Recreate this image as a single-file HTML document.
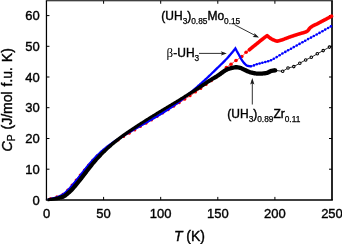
<!DOCTYPE html>
<html lang="en">
<head>
<meta charset="utf-8">
<title>Heat capacity of uranium hydrides</title>
<style>
html,body{margin:0;padding:0;background:#fff;}
body{width:342px;height:244px;overflow:hidden;}
svg{display:block;}
text{font-family:"Liberation Sans",Arial,Helvetica,sans-serif;fill:#000;stroke:#000;stroke-width:0.3px;}
.tk{font-size:13px;stroke-width:0.38px;}
.lb{font-size:12px;stroke-width:0.4px;}
.sub{font-size:8.3px;stroke-width:0.25px;}
.ttl{font-size:14px;stroke-width:0.4px;}
.it{font-style:italic;}
.beta{font-family:"Liberation Serif","DejaVu Serif",serif;font-size:13px;stroke:none;}
</style>
</head>
<body>
<svg width="342" height="244" viewBox="0 0 342 244">
<rect x="0" y="0" width="342" height="244" fill="#fff"/>
<g id="axes">
<path d="M45.85,0.75 H332.85" stroke="#000" stroke-width="1.1" fill="none"/>
<path d="M45.85,199.9 H332.85" stroke="#000" stroke-width="1.5" fill="none"/>
<path d="M46.45,0.75 V199.9" stroke="#000" stroke-width="1.25" fill="none"/>
<path d="M332.0,0.75 V199.9" stroke="#000" stroke-width="1.7" fill="none"/>
<path d="M103.6,199.9 v-3 M103.6,0.75 v3 M160.7,199.9 v-3 M160.7,0.75 v3 M217.8,199.9 v-3 M217.8,0.75 v3 M274.9,199.9 v-3 M274.9,0.75 v3 M46.45,169.2 h3 M332.0,169.2 h-3 M46.45,138.5 h3 M332.0,138.5 h-3 M46.45,107.7 h3 M332.0,107.7 h-3 M46.45,77.0 h3 M332.0,77.0 h-3 M46.45,46.3 h3 M332.0,46.3 h-3 M46.45,15.6 h3 M332.0,15.6 h-3" stroke="#000" stroke-width="1" fill="none"/>
<text x="46.5" y="218.4" text-anchor="middle" class="tk">0</text>
<text x="103.6" y="218.4" text-anchor="middle" class="tk">50</text>
<text x="160.7" y="218.4" text-anchor="middle" class="tk">100</text>
<text x="217.8" y="218.4" text-anchor="middle" class="tk">150</text>
<text x="274.9" y="218.4" text-anchor="middle" class="tk">200</text>
<text x="332.0" y="218.4" text-anchor="middle" class="tk">250</text>
<text x="39.8" y="204.6" text-anchor="end" class="tk">0</text>
<text x="39.8" y="173.9" text-anchor="end" class="tk">10</text>
<text x="39.8" y="143.2" text-anchor="end" class="tk">20</text>
<text x="39.8" y="112.4" text-anchor="end" class="tk">30</text>
<text x="39.8" y="81.7" text-anchor="end" class="tk">40</text>
<text x="39.8" y="51.0" text-anchor="end" class="tk">50</text>
<text x="39.8" y="20.3" text-anchor="end" class="tk">60</text>
</g>
<g id="curves">
<path d="M48.2,199.1 L48.7,199.0 L49.2,198.9 L49.7,198.8 L50.2,198.7 L50.7,198.6 L51.2,198.4 L51.7,198.3 L52.2,198.2 L52.7,198.1 L53.2,197.9 L53.7,197.8 L54.2,197.6 L54.7,197.5 L55.2,197.3 L55.7,197.2 L56.2,197.0 L56.7,196.9 L57.2,196.7 L57.7,196.6 L58.2,196.4 L58.7,196.2 L59.2,196.0 L59.7,195.8 L60.2,195.6 L60.7,195.4 L61.2,195.1 L61.7,194.9 L62.2,194.6 L62.7,194.4 L63.2,194.1 L63.7,193.8 L64.2,193.5 L64.7,193.1 L65.2,192.6 L65.7,192.1 L66.2,191.6 L66.7,191.0 L67.2,190.5 L67.7,189.9 L68.2,189.4 L68.7,188.8 L69.2,188.3 L69.7,187.7 L70.2,187.1 L70.7,186.6 L71.2,186.0 L71.7,185.4 L72.2,184.8 L72.7,184.2 L73.2,183.6 L73.7,183.0 L74.2,182.4 L74.7,181.8 L75.2,181.2 L75.7,180.6 L76.2,180.0 L76.7,179.4 L77.2,178.8 L77.7,178.2 L78.2,177.6 L78.7,176.9 L79.2,176.3 L79.7,175.7 L80.2,175.1 L80.7,174.5 L81.2,173.8 L81.7,173.2 L82.2,172.6 L82.7,172.0 L83.2,171.3 L83.7,170.7 L84.2,170.1 L84.7,169.5 L85.2,168.9 L85.7,168.3 L86.2,167.7 L86.7,167.1 L87.2,166.5 L87.7,165.9 L88.2,165.3 L88.7,164.8 L89.2,164.2 L89.7,163.6 L90.2,163.0 L90.7,162.5 L91.2,161.9 L91.7,161.4 L92.2,160.8 L92.7,160.3 L93.2,159.8 L93.7,159.2 L94.2,158.7 L94.7,158.2 L95.2,157.7 L95.7,157.2 L96.2,156.7 L96.7,156.2 L97.2,155.7 L97.7,155.3 L98.2,154.8 L98.7,154.3 L99.2,153.8 L99.7,153.4 L100.2,152.9 L100.7,152.5 L101.2,152.0 L101.7,151.6 L102.2,151.2 L102.7,150.7 L103.2,150.3 L103.7,149.9 L104.2,149.5 L104.7,149.1 L105.2,148.7 L105.7,148.3 L106.2,148.0 L106.7,147.6 L107.2,147.2 L107.7,146.8 L108.2,146.5 L108.7,146.1 L109.2,145.7 L109.7,145.4 L110.2,145.0 L110.7,144.7 L111.2,144.3 L111.7,144.0 L112.2,143.7 L112.7,143.3 L113.2,143.0 L113.7,142.7 L114.2,142.3 L114.7,142.0 L115.2,141.7 L115.7,141.4 L116.2,141.1 L116.7,140.8 L117.2,140.5 L117.7,140.2 L118.2,139.9 L118.7,139.6 L119.2,139.3 L119.7,139.0 L120.2,138.7 L120.7,138.4 L121.2,138.1 L121.7,137.7 L122.2,137.4 L122.7,137.1 L123.2,136.8 L123.7,136.5 L124.2,136.2 L124.7,135.9 L125.2,135.6 L125.7,135.3 L126.2,135.0 L126.7,134.7 L127.2,134.4 L127.7,134.1 L128.2,133.8 L128.7,133.5 L129.2,133.2 L129.7,132.9 L130.2,132.6 L130.7,132.3 L131.2,132.0 L131.7,131.7 L132.2,131.4 L132.7,131.1 L133.2,130.8 L133.7,130.5 L134.2,130.2 L134.7,129.9 L135.2,129.6 L135.7,129.3 L136.2,129.0 L136.7,128.7 L137.2,128.5 L137.7,128.2 L138.2,127.9 L138.7,127.6 L139.2,127.3 L139.7,127.0 L140.2,126.7 L140.7,126.4 L141.2,126.1 L141.7,125.8 L142.2,125.5 L142.7,125.2 L143.2,124.9 L143.7,124.6 L144.2,124.3 L144.7,124.0 L145.2,123.7 L145.7,123.4 L146.2,123.1 L146.7,122.8 L147.2,122.5 L147.7,122.2 L148.2,121.9 L148.7,121.6 L149.2,121.3 L149.7,121.0 L150.2,120.7 L150.7,120.4 L151.2,120.1 L151.7,119.8 L152.2,119.5 L152.7,119.2 L153.2,118.9 L153.7,118.6 L154.2,118.3 L154.7,118.0 L155.2,117.7 L155.7,117.4 L156.2,117.1 L156.7,116.8 L157.2,116.5 L157.7,116.2 L158.2,115.9 L158.7,115.6 L159.2,115.3 L159.7,115.0 L160.2,114.7 L160.7,114.3 L161.2,114.0 L161.7,113.7 L162.2,113.4 L162.7,113.1 L163.2,112.8 L163.7,112.5 L164.2,112.2 L164.7,111.9 L165.2,111.6 L165.7,111.3 L166.2,111.0 L166.7,110.7 L167.2,110.4 L167.7,110.1 L168.2,109.7 L168.7,109.4 L169.2,109.1 L169.7,108.8 L170.2,108.5 L170.7,108.2 L171.2,107.9 L171.7,107.6 L172.2,107.3 L172.7,106.9 L173.2,106.6 L173.7,106.3 L174.2,106.0 L174.7,105.7 L175.2,105.4 L175.7,105.1 L176.2,104.8 L176.7,104.4 L177.2,104.1 L177.7,103.8 L178.2,103.5 L178.7,103.2 L179.2,102.9 L179.7,102.5 L180.2,102.2 L180.7,101.9 L181.2,101.6 L181.7,101.3 L182.2,100.9 L182.7,100.6 L183.2,100.3 L183.7,100.0 L184.2,99.7 L184.7,99.3 L185.2,99.0 L185.7,98.7 L186.2,98.4 L186.7,98.0 L187.2,97.7 L187.7,97.4 L188.2,97.1 L188.7,96.7 L189.2,96.4 L189.7,96.1 L190.2,95.7 L190.7,95.4 L191.2,95.1 L191.7,94.7 L192.2,94.4 L192.7,94.1 L193.2,93.7 L193.7,93.4 L194.2,93.0 L194.7,92.7 L195.2,92.3 L195.7,92.0 L196.2,91.7 L196.7,91.3 L197.2,91.0 L197.7,90.6 L198.2,90.3 L198.7,89.9 L199.2,89.6 L199.7,89.2 L200.2,88.8 L200.7,88.5 L201.2,88.1 L201.7,87.8 L202.2,87.4 L202.7,87.0 L203.2,86.7 L203.7,86.3 L204.2,85.9 L204.7,85.6 L205.2,85.2 L205.7,84.8 L206.2,84.4 L206.7,84.1 L207.2,83.7 L207.7,83.4 L208.2,83.0 L208.7,82.6 L209.2,82.3 L209.7,81.9 L210.2,81.6 L210.7,81.2 L211.2,80.9 L211.7,80.6 L212.2,80.2 L212.7,79.9 L213.2,79.6 L213.7,79.2 L214.2,78.9 L214.7,78.5 L215.2,78.2 L215.7,77.8 L216.2,77.4 L216.7,77.0 L217.2,76.6 L217.7,76.2 L218.2,75.8 L218.7,75.3 L219.2,74.8 L219.7,74.3 L220.2,73.8 L220.7,73.3 L221.2,72.8 L221.7,72.2 L222.2,71.7 L222.7,71.1 L223.2,70.6 L223.7,70.1 L224.2,69.5 L224.7,69.0 L225.2,68.6 L225.7,68.1 L226.2,67.7 L226.7,67.3 L227.2,66.9 L227.7,66.5 L228.2,66.1 L228.7,65.8 L229.2,65.5 L229.7,65.1 L230.2,64.8 L230.7,64.4 L231.2,64.1 L231.7,63.7 L232.2,63.3 L232.7,62.9 L233.2,62.6 L233.7,62.2 L234.2,61.8 L234.7,61.4 L235.2,61.1 L235.7,60.7 L236.2,60.4 L236.7,60.0 L237.2,59.7 L237.7,59.4 L238.2,59.0 L238.7,58.7 L239.2,58.4 L239.7,58.0 L240.2,57.7 L240.7,57.3 L241.2,57.0 L241.7,56.6 L242.2,56.2 L242.7,55.7 L243.2,55.2 L243.7,54.7 L244.2,54.2 L244.7,53.6 L245.2,53.1 L245.7,52.7 L246.2,52.2 L246.7,51.8 L247.2,51.4 L247.7,51.0 L248.2,50.6 L248.7,50.3 L249.2,49.9 L249.7,49.5 L250.2,49.1 L250.7,48.7 L251.2,48.2 L251.7,47.8 L252.2,47.4 L252.7,47.0 L253.2,46.6 L253.7,46.2 L254.2,45.8 L254.7,45.4 L255.2,45.0 L255.7,44.6 L256.2,44.2 L256.7,43.8 L257.2,43.4 L257.7,43.0 L258.2,42.6 L258.7,42.2 L259.2,41.8 L259.7,41.3" fill="none" stroke="#ff0000" stroke-width="0.8"/>
<circle cx="50.6" cy="198.6" r="1.5" fill="#ff0000"/>
<circle cx="56.9" cy="196.8" r="1.5" fill="#ff0000"/>
<circle cx="62.9" cy="194.3" r="1.5" fill="#ff0000"/>
<circle cx="67.7" cy="190.0" r="1.5" fill="#ff0000"/>
<circle cx="72.0" cy="185.1" r="1.5" fill="#ff0000"/>
<circle cx="76.1" cy="180.1" r="1.5" fill="#ff0000"/>
<circle cx="80.2" cy="175.1" r="1.5" fill="#ff0000"/>
<circle cx="84.3" cy="170.0" r="1.5" fill="#ff0000"/>
<circle cx="88.5" cy="165.0" r="1.5" fill="#ff0000"/>
<circle cx="92.8" cy="160.2" r="1.5" fill="#ff0000"/>
<circle cx="97.4" cy="155.6" r="1.5" fill="#ff0000"/>
<circle cx="102.2" cy="151.2" r="1.5" fill="#ff0000"/>
<circle cx="107.3" cy="147.1" r="1.5" fill="#ff0000"/>
<circle cx="112.6" cy="143.4" r="1.5" fill="#ff0000"/>
<circle cx="118.1" cy="139.9" r="1.5" fill="#ff0000"/>
<circle cx="123.7" cy="136.6" r="1.5" fill="#ff0000"/>
<circle cx="129.2" cy="133.2" r="1.5" fill="#ff0000"/>
<circle cx="134.8" cy="129.9" r="1.5" fill="#ff0000"/>
<circle cx="140.4" cy="126.6" r="1.5" fill="#ff0000"/>
<circle cx="146.0" cy="123.2" r="1.5" fill="#ff0000"/>
<circle cx="151.5" cy="119.9" r="1.5" fill="#ff0000"/>
<circle cx="157.1" cy="116.5" r="1.5" fill="#ff0000"/>
<circle cx="162.7" cy="113.1" r="1.5" fill="#ff0000"/>
<circle cx="168.2" cy="109.7" r="1.5" fill="#ff0000"/>
<circle cx="173.7" cy="106.3" r="1.5" fill="#ff0000"/>
<circle cx="179.2" cy="102.8" r="1.5" fill="#ff0000"/>
<circle cx="184.7" cy="99.3" r="1.5" fill="#ff0000"/>
<circle cx="190.1" cy="95.8" r="1.5" fill="#ff0000"/>
<circle cx="195.5" cy="92.1" r="1.5" fill="#ff0000"/>
<circle cx="200.8" cy="88.4" r="1.5" fill="#ff0000"/>
<circle cx="206.1" cy="84.5" r="1.5" fill="#ff0000"/>
<circle cx="211.4" cy="80.8" r="1.5" fill="#ff0000"/>
<circle cx="216.7" cy="77.0" r="1.5" fill="#ff0000"/>
<circle cx="221.4" cy="72.6" r="1.5" fill="#ff0000"/>
<circle cx="226.4" cy="67.5" r="1.8" fill="#ff0000"/>
<circle cx="231.0" cy="64.2" r="1.8" fill="#ff0000"/>
<circle cx="236.0" cy="60.5" r="1.8" fill="#ff0000"/>
<circle cx="241.8" cy="56.5" r="1.8" fill="#ff0000"/>
<circle cx="246.1" cy="52.3" r="1.8" fill="#ff0000"/>
<path d="M249.2,49.9 L249.7,49.5 L250.2,49.1 L250.7,48.7 L251.2,48.2 L251.7,47.8 L252.2,47.4 L252.7,47.0 L253.2,46.6 L253.7,46.2 L254.2,45.8 L254.7,45.4 L255.2,45.0 L255.7,44.6 L256.2,44.2 L256.7,43.8 L257.2,43.4 L257.7,43.0 L258.2,42.6 L258.7,42.2 L259.2,41.8 L259.7,41.3 L260.2,40.9 L260.7,40.5 L261.2,40.1 L261.7,39.8 L262.2,39.4 L262.7,39.0 L263.2,38.6 L263.7,38.2 L264.2,37.8 L264.7,37.4 L265.2,37.0 L265.7,36.7 L266.2,36.3 L266.7,35.9 L267.1,35.6 L267.1,35.6 L267.6,36.1 L268.1,36.5 L268.6,36.9 L269.1,37.3 L269.6,37.7 L270.1,38.1 L270.6,38.4 L271.1,38.7 L271.6,39.0 L272.1,39.3 L272.6,39.5 L273.1,39.8 L273.6,40.0 L274.1,40.2 L274.6,40.4 L275.1,40.6 L275.6,40.8 L276.1,40.9 L276.6,41.1 L277.1,41.2 L277.2,41.2 L277.2,41.2 L277.7,41.1 L278.2,41.0 L278.7,40.8 L279.2,40.7 L279.7,40.6 L280.2,40.4 L280.7,40.3 L281.2,40.1 L281.7,40.0 L282.2,39.8 L282.7,39.7 L283.2,39.5 L283.7,39.3 L284.2,39.1 L284.7,38.9 L285.2,38.7 L285.7,38.5 L286.2,38.3 L286.7,38.1 L287.2,37.9 L287.7,37.8 L288.2,37.6 L288.7,37.4 L289.2,37.2 L289.7,37.0 L290.2,36.9 L290.7,36.7 L291.2,36.5 L291.7,36.4 L292.2,36.2 L292.7,36.0 L293.2,35.9 L293.7,35.7 L294.2,35.5 L294.7,35.4 L295.2,35.2 L295.7,35.0 L296.2,34.9 L296.7,34.7 L297.2,34.6 L297.7,34.4 L298.2,34.2 L298.7,34.1 L299.2,33.9 L299.7,33.8 L300.2,33.6 L300.7,33.4 L301.2,33.3 L301.7,33.2 L302.2,33.0 L302.7,32.9 L303.2,32.8 L303.7,32.6 L304.2,32.5 L304.7,32.3 L305.2,32.1 L305.7,32.0 L306.2,31.7 L306.7,31.5 L307.2,31.2 L307.7,30.8 L308.2,30.3 L308.7,29.7 L309.2,28.9 L309.7,28.2 L310.2,27.7 L310.7,27.3 L311.2,27.0 L311.7,26.6 L312.2,26.3 L312.7,26.0 L313.2,25.7 L313.7,25.5 L314.2,25.2 L314.7,25.0 L315.2,24.7 L315.7,24.5 L316.2,24.3 L316.7,24.1 L317.2,23.8 L317.7,23.6 L318.2,23.3 L318.7,23.0 L319.2,22.8 L319.7,22.5 L320.2,22.2 L320.7,22.0 L321.2,21.7 L321.7,21.4 L322.2,21.2 L322.7,20.9 L323.2,20.6 L323.7,20.4 L324.2,20.1 L324.7,19.8 L325.2,19.6 L325.7,19.3 L326.2,19.1 L326.7,18.8 L327.2,18.5 L327.7,18.3 L328.2,18.0 L328.7,17.7 L329.2,17.5 L329.7,17.2 L330.2,16.9 L330.7,16.7 L331.2,16.4 L331.6,16.2" fill="none" stroke="#ff0000" stroke-width="3.6" stroke-linejoin="round" stroke-linecap="round"/>
<path d="M250.4,66.3 L250.9,66.3 L251.4,66.2 L251.9,66.1 L252.4,65.9 L252.9,65.8 L253.4,65.6 L253.9,65.3 L254.4,65.1 L254.9,64.9 L255.4,64.7 L255.9,64.5 L256.4,64.4 L256.9,64.2 L257.4,64.1 L257.9,64.0 L258.4,63.8 L258.9,63.7 L259.4,63.6 L259.9,63.4 L260.4,63.3 L260.9,63.2 L261.4,63.1 L261.9,62.9 L262.4,62.8 L262.9,62.7 L263.4,62.5 L263.9,62.4 L264.4,62.3 L264.9,62.1 L265.4,62.0 L265.9,61.9 L266.4,61.7 L266.9,61.6 L267.4,61.5 L267.9,61.3 L268.4,61.2 L268.9,61.0 L269.4,60.8 L269.9,60.6 L270.4,60.4 L270.9,60.2 L271.4,60.0 L271.9,59.8 L272.4,59.5 L272.9,59.3 L273.4,59.0 L273.9,58.7 L274.4,58.4 L274.9,58.2 L275.4,57.9 L275.9,57.5 L276.4,57.2 L276.9,56.9 L277.4,56.6 L277.9,56.3 L278.4,56.0 L278.9,55.7 L279.4,55.3 L279.9,55.0 L280.4,54.7 L280.9,54.4 L281.4,54.1 L281.9,53.8 L282.4,53.5 L282.9,53.3 L283.4,53.0 L283.9,52.7 L284.4,52.4 L284.9,52.1 L285.4,51.9 L285.9,51.6 L286.4,51.3 L286.9,51.0 L287.4,50.7 L287.9,50.5 L288.4,50.2 L288.9,49.9 L289.4,49.6 L289.9,49.3 L290.4,49.1 L290.9,48.8 L291.4,48.5 L291.9,48.2 L292.4,47.9 L292.9,47.7 L293.4,47.4 L293.9,47.1 L294.4,46.8 L294.9,46.5 L295.4,46.3 L295.9,46.0 L296.4,45.7 L296.9,45.4 L297.4,45.1 L297.9,44.8 L298.4,44.6 L298.9,44.3 L299.4,44.0 L299.9,43.7 L300.4,43.4 L300.9,43.2 L301.4,42.9 L301.9,42.6 L302.4,42.3 L302.9,42.0 L303.4,41.8 L303.9,41.5 L304.4,41.2 L304.9,40.9 L305.4,40.6 L305.9,40.4 L306.4,40.1 L306.9,39.8 L307.4,39.5 L307.9,39.2 L308.4,39.0 L308.9,38.7 L309.4,38.4 L309.9,38.2 L310.4,37.9 L310.9,37.6 L311.4,37.3 L311.9,37.1 L312.4,36.8 L312.9,36.5 L313.4,36.3 L313.9,36.0 L314.4,35.7 L314.9,35.4 L315.4,35.2 L315.9,34.9 L316.4,34.6 L316.9,34.3 L317.4,34.1 L317.9,33.8 L318.4,33.5 L318.9,33.2 L319.4,32.9 L319.9,32.6 L320.4,32.4 L320.9,32.1 L321.4,31.8 L321.9,31.5 L322.4,31.2 L322.9,30.9 L323.4,30.6 L323.9,30.3 L324.4,30.0 L324.9,29.8 L325.4,29.5 L325.9,29.2 L326.4,28.9 L326.9,28.6 L327.4,28.3 L327.9,28.1 L328.4,27.8 L328.9,27.5 L329.4,27.2 L329.9,26.9 L330.4,26.7 L330.9,26.4 L331.4,26.1 L331.6,26.0" fill="none" stroke="#0000ff" stroke-width="0.8"/>
<path d="M48.7,199.3 L49.2,199.2 L49.7,199.1 L50.2,199.0 L50.7,198.9 L51.2,198.8 L51.7,198.7 L52.2,198.6 L52.7,198.5 L53.2,198.4 L53.7,198.2 L54.2,198.1 L54.7,198.0 L55.2,197.9 L55.7,197.7 L56.2,197.6 L56.7,197.4 L57.2,197.2 L57.7,197.0 L58.2,196.8 L58.7,196.6 L59.2,196.4 L59.7,196.2 L60.2,195.9 L60.7,195.7 L61.2,195.4 L61.7,195.2 L62.2,194.9 L62.7,194.6 L63.2,194.3 L63.7,193.9 L64.2,193.6 L64.7,193.2 L65.2,192.7 L65.7,192.3 L66.2,191.8 L66.7,191.3 L67.2,190.8 L67.7,190.3 L68.2,189.8 L68.7,189.2 L69.2,188.7 L69.7,188.2 L70.2,187.7 L70.7,187.1 L71.2,186.6 L71.7,186.0 L72.2,185.4 L72.7,184.8 L73.2,184.2 L73.7,183.6 L74.2,183.0 L74.7,182.4 L75.2,181.8 L75.7,181.2 L76.2,180.6 L76.7,180.0 L77.2,179.3 L77.7,178.7 L78.2,178.1 L78.7,177.4 L79.2,176.8 L79.7,176.1 L80.2,175.5 L80.7,174.9 L81.2,174.2 L81.7,173.6 L82.2,172.9 L82.7,172.3 L83.2,171.7 L83.7,171.0 L84.2,170.4 L84.7,169.7 L85.2,169.1 L85.7,168.5 L86.2,167.8 L86.7,167.2 L87.2,166.6 L87.7,166.0 L88.2,165.4 L88.7,164.8 L89.2,164.2 L89.7,163.6 L90.2,163.0 L90.7,162.4 L91.2,161.8 L91.7,161.3 L92.2,160.7 L92.7,160.1 L93.2,159.6 L93.7,159.0 L94.2,158.5 L94.7,158.0 L95.2,157.5 L95.7,156.9 L96.2,156.4 L96.7,155.9 L97.2,155.5 L97.7,155.0 L98.2,154.5 L98.7,154.0 L99.2,153.5 L99.7,153.1 L100.2,152.6 L100.7,152.1 L101.2,151.7 L101.7,151.2 L102.2,150.8 L102.7,150.4 L103.2,149.9 L103.7,149.5 L104.2,149.1 L104.7,148.7 L105.2,148.3 L105.7,147.9 L106.2,147.5 L106.7,147.1 L107.2,146.7 L107.7,146.3 L108.2,145.9 L108.7,145.6 L109.2,145.2 L109.7,144.8 L110.2,144.4 L110.7,144.1 L111.2,143.7 L111.7,143.4 L112.2,143.0 L112.7,142.6 L113.2,142.3 L113.7,141.9 L114.2,141.6 L114.7,141.3 L115.2,140.9 L115.7,140.6 L116.2,140.3 L116.7,139.9 L117.2,139.6 L117.7,139.3 L118.2,139.0 L118.7,138.7 L119.2,138.3 L119.7,138.0 L120.2,137.7 L120.7,137.4 L121.2,137.1 L121.7,136.8 L122.2,136.5 L122.7,136.1 L123.2,135.8 L123.7,135.5 L124.2,135.2 L124.7,134.9 L125.2,134.6 L125.7,134.3 L126.2,134.0 L126.7,133.7 L127.2,133.4 L127.7,133.1 L128.2,132.8 L128.7,132.5 L129.2,132.3 L129.7,132.0 L130.2,131.7 L130.7,131.4 L131.2,131.1 L131.7,130.8 L132.2,130.5 L132.7,130.2 L133.2,129.9 L133.7,129.6 L134.2,129.4 L134.7,129.1 L135.2,128.8 L135.7,128.5 L136.2,128.2 L136.7,127.9 L137.2,127.6 L137.7,127.4 L138.2,127.1 L138.7,126.8 L139.2,126.5 L139.7,126.2 L140.2,125.9 L140.7,125.7 L141.2,125.4 L141.7,125.1 L142.2,124.8 L142.7,124.5 L143.2,124.2 L143.7,124.0 L144.2,123.7 L144.7,123.4 L145.2,123.1 L145.7,122.8 L146.2,122.5 L146.7,122.3 L147.2,122.0 L147.7,121.7 L148.2,121.4 L148.7,121.1 L149.2,120.8 L149.7,120.5 L150.2,120.3 L150.7,120.0 L151.2,119.7 L151.7,119.4 L152.2,119.1 L152.7,118.8 L153.2,118.5 L153.7,118.2 L154.2,117.9 L154.7,117.6 L155.2,117.4 L155.7,117.1 L156.2,116.8 L156.7,116.5 L157.2,116.2 L157.7,115.9 L158.2,115.6 L158.7,115.3 L159.2,115.0 L159.7,114.7 L160.2,114.4 L160.7,114.1 L161.2,113.8 L161.7,113.5 L162.2,113.2 L162.7,112.8 L163.2,112.5 L163.7,112.2 L164.2,111.9 L164.7,111.6 L165.2,111.3 L165.7,110.9 L166.2,110.6 L166.7,110.3 L167.2,110.0 L167.7,109.7 L168.2,109.3 L168.7,109.0 L169.2,108.7 L169.7,108.4 L170.2,108.0 L170.7,107.7 L171.2,107.4 L171.7,107.0 L172.2,106.7 L172.7,106.3 L173.2,106.0 L173.7,105.6 L174.2,105.3 L174.7,104.9 L175.2,104.6 L175.7,104.2 L176.2,103.9 L176.7,103.5 L177.2,103.2 L177.7,102.8 L178.2,102.4 L178.7,102.1 L179.2,101.7 L179.7,101.3 L180.2,101.0 L180.7,100.6 L181.2,100.2 L181.7,99.8 L182.2,99.4 L182.7,99.0 L183.2,98.6 L183.7,98.3 L184.2,97.9 L184.7,97.5 L185.2,97.1 L185.7,96.6 L186.2,96.2 L186.7,95.8 L187.2,95.4 L187.7,95.0 L188.2,94.6 L188.7,94.2 L189.2,93.7 L189.7,93.3 L190.2,92.9 L190.7,92.5 L191.2,92.1 L191.7,91.6 L192.2,91.2 L192.7,90.8 L193.2,90.3 L193.7,89.9 L194.2,89.5 L194.7,89.0 L195.2,88.6 L195.7,88.2 L196.2,87.7 L196.7,87.3 L197.2,86.8 L197.7,86.4 L198.2,85.9 L198.7,85.5 L199.2,85.0 L199.7,84.6 L200.2,84.1 L200.7,83.7 L201.2,83.3 L201.7,82.8 L202.2,82.4 L202.7,81.9 L203.2,81.5 L203.7,81.0 L204.2,80.6 L204.7,80.1 L205.2,79.6 L205.7,79.2 L206.2,78.7 L206.7,78.3 L207.2,77.8 L207.7,77.3 L208.2,76.9 L208.7,76.4 L209.2,75.9 L209.7,75.5 L210.2,75.0 L210.7,74.5 L211.2,74.0 L211.7,73.5 L212.2,73.0 L212.7,72.5 L213.2,72.0 L213.7,71.6 L214.2,71.1 L214.7,70.6 L215.2,70.1 L215.7,69.6 L216.2,69.1 L216.7,68.6 L217.2,68.1 L217.7,67.7 L218.2,67.2 L218.7,66.7 L219.2,66.2 L219.7,65.8 L220.2,65.3 L220.7,64.8 L221.2,64.3 L221.7,63.8 L222.2,63.4 L222.7,62.9 L223.2,62.4 L223.7,61.9 L224.2,61.4 L224.7,60.9 L225.2,60.3 L225.7,59.8 L226.2,59.3 L226.7,58.7 L227.2,58.2 L227.7,57.6 L228.2,57.1 L228.7,56.5 L229.2,55.9 L229.7,55.4 L230.2,54.8 L230.7,54.2 L231.2,53.6 L231.7,53.0 L232.2,52.4 L232.7,51.8 L233.2,51.2 L233.7,50.5 L234.2,49.9 L234.7,49.3 L235.2,48.7 L235.4,48.4 L235.4,48.4 L235.9,49.3 L236.4,50.2 L236.9,51.2 L237.4,52.1 L237.9,53.0 L238.4,53.9 L238.9,54.8 L239.4,55.7 L239.9,56.6 L240.4,57.6 L240.9,58.5 L241.4,59.3 L241.9,60.2 L242.4,60.9 L242.9,61.6 L243.4,62.2 L243.9,62.9 L244.4,63.4 L244.9,63.9 L245.4,64.4 L245.9,64.8 L246.4,65.2 L246.9,65.5 L247.4,65.8 L247.9,65.9 L248.4,66.0 L248.9,66.1 L249.4,66.2 L249.9,66.3" fill="none" stroke="#0000ff" stroke-width="2.3" stroke-linejoin="miter" stroke-miterlimit="6" stroke-linecap="round"/>
<circle cx="251.0" cy="66.3" r="1.3" fill="#0000ff"/>
<circle cx="253.9" cy="65.4" r="1.3" fill="#0000ff"/>
<circle cx="256.7" cy="64.3" r="1.3" fill="#0000ff"/>
<circle cx="259.6" cy="63.5" r="1.3" fill="#0000ff"/>
<circle cx="262.4" cy="62.8" r="1.3" fill="#0000ff"/>
<circle cx="265.3" cy="62.0" r="1.3" fill="#0000ff"/>
<circle cx="268.1" cy="61.2" r="1.3" fill="#0000ff"/>
<circle cx="271.0" cy="60.2" r="1.3" fill="#0000ff"/>
<circle cx="273.8" cy="58.8" r="1.3" fill="#0000ff"/>
<circle cx="276.7" cy="57.1" r="1.3" fill="#0000ff"/>
<circle cx="279.6" cy="55.3" r="1.3" fill="#0000ff"/>
<circle cx="282.4" cy="53.5" r="1.3" fill="#0000ff"/>
<circle cx="285.3" cy="51.9" r="1.3" fill="#0000ff"/>
<circle cx="288.1" cy="50.3" r="1.3" fill="#0000ff"/>
<circle cx="291.0" cy="48.7" r="1.3" fill="#0000ff"/>
<circle cx="293.8" cy="47.1" r="1.3" fill="#0000ff"/>
<circle cx="296.7" cy="45.5" r="1.3" fill="#0000ff"/>
<circle cx="299.5" cy="43.9" r="1.3" fill="#0000ff"/>
<circle cx="302.4" cy="42.3" r="1.3" fill="#0000ff"/>
<circle cx="305.2" cy="40.7" r="1.3" fill="#0000ff"/>
<circle cx="308.1" cy="39.1" r="1.3" fill="#0000ff"/>
<circle cx="311.0" cy="37.6" r="1.3" fill="#0000ff"/>
<circle cx="313.8" cy="36.0" r="1.3" fill="#0000ff"/>
<circle cx="316.7" cy="34.5" r="1.3" fill="#0000ff"/>
<circle cx="319.5" cy="32.9" r="1.3" fill="#0000ff"/>
<circle cx="322.4" cy="31.2" r="1.3" fill="#0000ff"/>
<circle cx="325.2" cy="29.6" r="1.3" fill="#0000ff"/>
<circle cx="328.1" cy="28.0" r="1.3" fill="#0000ff"/>
<circle cx="330.9" cy="26.4" r="1.3" fill="#0000ff"/>
<path d="M47.6,201.3 L48.1,201.3 L48.6,201.2 L49.2,201.2 L49.7,201.1 L50.2,201.0 L50.7,201.0 L51.2,201.0 L51.7,200.9 L52.2,200.9 L52.7,200.8 L53.3,200.8 L53.8,200.7 L54.3,200.7 L54.8,200.6 L55.3,200.5 L55.8,200.5 L56.3,200.4 L56.8,200.3 L57.4,200.2 L57.9,200.2 L58.4,200.1 L58.9,200.0 L59.5,199.9 L60.0,199.8 L60.5,199.6 L61.1,199.5 L61.6,199.4 L62.2,199.2 L62.7,199.1 L63.2,198.9 L63.8,198.7 L64.4,198.4 L65.0,198.1 L65.6,197.7 L66.2,197.4 L66.7,197.0 L67.3,196.6 L67.8,196.1 L68.3,195.7 L68.9,195.2 L69.4,194.8 L69.9,194.3 L70.4,193.9 L70.9,193.4 L71.4,193.0 L71.9,192.5 L72.5,192.0 L73.0,191.4 L73.5,190.9 L74.1,190.3 L74.6,189.7 L75.1,189.1 L75.6,188.6 L76.1,188.0 L76.6,187.4 L77.1,186.8 L77.6,186.2 L78.1,185.6 L78.6,185.0 L79.1,184.3 L79.6,183.7 L80.1,183.1 L80.6,182.4 L81.1,181.8 L81.7,181.2 L82.1,180.5 L82.7,179.9 L83.2,179.3 L83.7,178.6 L84.2,178.0 L84.7,177.3 L85.2,176.6 L85.7,176.0 L86.2,175.3 L86.7,174.7 L87.2,174.0 L87.7,173.4 L88.1,172.8 L88.6,172.1 L89.1,171.5 L89.6,170.8 L90.1,170.2 L90.6,169.5 L91.1,168.9 L91.6,168.3 L92.1,167.7 L92.6,167.0 L93.1,166.4 L93.5,165.8 L94.0,165.2 L94.5,164.6 L95.0,164.0 L95.5,163.5 L96.0,162.9 L96.5,162.3 L97.0,161.7 L97.4,161.2 L97.9,160.6 L98.4,160.1 L98.9,159.5 L99.4,159.0 L99.9,158.5 L100.4,157.9 L100.9,157.4 L101.4,156.9 L101.8,156.4 L102.3,155.8 L102.8,155.3 L103.3,154.8 L103.8,154.3 L104.3,153.8 L104.8,153.3 L105.3,152.9 L105.8,152.4 L106.2,151.9 L106.7,151.4 L107.2,151.0 L107.7,150.5 L108.2,150.0 L108.7,149.6 L109.2,149.1 L109.7,148.7 L110.2,148.2 L110.7,147.8 L111.2,147.4 L111.7,146.9 L112.1,146.5 L112.6,146.1 L113.1,145.6 L113.6,145.2 L114.1,144.8 L114.6,144.4 L115.1,144.0 L115.6,143.6 L116.1,143.2 L116.6,142.8 L117.1,142.4 L117.6,142.0 L118.1,141.6 L118.5,141.2 L119.0,140.8 L119.5,140.4 L120.0,140.0 L120.5,139.7 L121.0,139.3 L121.5,138.9 L122.0,138.5 L122.5,138.1 L123.0,137.8 L123.5,137.4 L124.0,137.0 L124.5,136.7 L125.0,136.3 L125.5,135.9 L126.0,135.6 L126.5,135.2 L126.9,134.9 L127.4,134.5 L127.9,134.2 L128.4,133.8 L128.9,133.5 L129.4,133.1 L129.9,132.8 L130.4,132.4 L130.9,132.1 L131.4,131.7 L131.9,131.4 L132.4,131.1 L132.9,130.7 L133.4,130.4 L133.9,130.0 L134.4,129.7 L134.9,129.4 L135.4,129.0 L135.9,128.7 L136.4,128.4 L136.9,128.0 L137.4,127.7 L137.9,127.4 L138.4,127.0 L138.9,126.7 L139.4,126.4 L139.8,126.0 L140.3,125.7 L140.8,125.4 L141.3,125.1 L141.8,124.7 L142.3,124.4 L142.8,124.1 L143.3,123.8 L143.8,123.5 L144.3,123.2 L144.8,122.8 L145.3,122.5 L145.8,122.2 L146.3,121.9 L146.8,121.6 L147.3,121.3 L147.8,120.9 L148.3,120.6 L148.8,120.3 L149.3,120.0 L149.8,119.7 L150.3,119.4 L150.8,119.1 L151.3,118.8 L151.8,118.5 L152.3,118.1 L152.8,117.8 L153.3,117.5 L153.8,117.2 L154.3,116.9 L154.8,116.6 L155.3,116.3 L155.8,116.0 L156.3,115.7 L156.8,115.4 L157.3,115.1 L157.8,114.8 L158.3,114.5 L158.8,114.2 L159.3,113.9 L159.8,113.6 L160.3,113.3 L160.8,113.0 L161.3,112.7 L161.8,112.4 L162.3,112.1 L162.8,111.8 L163.3,111.5 L163.8,111.2 L164.3,110.9 L164.8,110.6 L165.3,110.3 L165.8,109.9 L166.3,109.6 L166.8,109.3 L167.3,109.0 L167.8,108.7 L168.3,108.4 L168.8,108.1 L169.3,107.8 L169.8,107.5 L170.3,107.2 L170.8,106.9 L171.3,106.6 L171.8,106.3 L172.3,106.0 L172.8,105.7 L173.3,105.4 L173.8,105.1 L174.3,104.8 L174.8,104.5 L175.3,104.2 L175.8,103.9 L176.3,103.6 L176.8,103.3 L177.3,103.0 L177.8,102.7 L178.3,102.4 L178.8,102.1 L179.3,101.8 L179.8,101.5 L180.3,101.2 L180.8,100.9 L181.3,100.6 L181.8,100.3 L182.3,100.0 L182.8,99.7 L183.3,99.4 L183.8,99.1 L184.3,98.8 L184.8,98.5 L185.3,98.2 L185.9,97.9 L186.4,97.6 L186.9,97.3 L187.4,97.0 L187.9,96.7 L188.4,96.4 L188.9,96.1 L189.4,95.8 L189.9,95.5 L190.4,95.2 L190.9,94.9 L191.4,94.6 L191.9,94.2 L192.4,93.9 L192.9,93.6 L193.4,93.3 L193.9,93.0 L194.4,92.7 L194.9,92.4 L195.5,92.1 L196.0,91.8 L196.5,91.4 L197.0,91.1 L197.5,90.8 L198.0,90.5 L198.5,90.2 L199.0,89.9 L199.5,89.5 L200.0,89.2 L200.5,88.9 L201.0,88.6 L201.5,88.2 L202.0,87.9 L202.5,87.6 L203.1,87.2 L203.6,86.9 L204.1,86.6 L204.6,86.2 L205.1,85.9 L205.6,85.6 L206.1,85.2 L206.6,84.9 L207.1,84.6 L207.6,84.3 L208.1,83.9 L208.6,83.6 L209.1,83.3 L209.6,83.0 L210.1,82.7 L210.6,82.4 L211.0,82.1 L211.5,81.8 L212.0,81.5 L212.5,81.2 L213.0,80.9 L213.5,80.6 L214.0,80.3 L214.5,80.1 L215.1,79.8 L215.6,79.5 L216.1,79.2 L216.6,78.9 L217.1,78.6 L217.6,78.3 L218.1,78.0 L218.6,77.6 L219.2,77.3 L219.7,77.0 L220.2,76.6 L220.8,76.2 L221.3,75.9 L221.8,75.5 L222.3,75.1 L222.8,74.8 L223.3,74.4 L223.8,74.0 L224.3,73.7 L224.7,73.3 L225.2,73.0 L225.7,72.7 L226.1,72.4 L226.6,72.1 L227.0,71.9 L227.4,71.7 L227.9,71.5 L228.3,71.3 L228.7,71.1 L229.2,71.0 L229.7,70.8 L230.2,70.6 L230.6,70.5 L231.1,70.4 L231.5,70.2 L232.0,70.1 L232.5,70.0 L232.9,69.9 L233.4,69.8 L233.9,69.7 L234.4,69.6 L234.9,69.5 L235.3,69.4 L235.7,69.4 L236.1,69.4 L236.4,69.4 L236.8,69.4 L237.2,69.4 L237.6,69.5 L238.1,69.6 L238.5,69.7 L239.0,69.8 L239.5,69.9 L239.8,70.0 L240.2,70.1 L240.6,70.3 L241.0,70.5 L241.5,70.8 L242.0,71.0 L242.6,71.3 L243.1,71.6 L243.6,71.8 L244.1,72.0 L244.6,72.2 L245.1,72.5 L245.6,72.7 L246.1,72.9 L246.6,73.2 L247.1,73.4 L247.7,73.6 L248.2,73.8 L248.8,74.1 L249.3,74.2 L249.9,74.4 L250.5,74.6 L251.0,74.7 L251.5,74.8 L252.0,74.9 L252.6,75.1 L253.1,75.2 L253.6,75.3 L254.1,75.4 L254.6,75.5 L255.2,75.5 L255.7,75.6 L256.2,75.7 L256.8,75.8 L257.4,75.8 L257.9,75.8 L258.5,75.8 L259.0,75.8 L259.5,75.8 L260.1,75.8 L260.6,75.8 L261.1,75.8 L261.6,75.7 L262.2,75.7 L262.7,75.7 L263.2,75.6 L263.7,75.6 L264.2,75.5 L264.8,75.4 L265.3,75.4 L265.8,75.3 L266.3,75.2 L267.0,75.1 L267.6,74.9 L268.3,74.7 L268.9,74.5 L269.4,74.2 L270.0,73.9 L270.5,73.7 L270.9,73.4 L271.4,73.2 L271.8,73.1 L272.1,72.9 L272.5,72.9 L272.8,72.8 L273.3,72.7 L273.8,72.7 L274.2,72.6 L274.6,72.6 L275.1,72.6 L275.2,72.5 L275.2,68.3 L274.9,68.3 L274.4,68.3 L273.8,68.3 L273.2,68.4 L272.7,68.5 L272.2,68.5 L271.5,68.7 L270.9,68.8 L270.2,69.1 L269.6,69.3 L269.1,69.6 L268.5,69.8 L268.0,70.1 L267.6,70.3 L267.1,70.5 L266.7,70.7 L266.4,70.8 L266.0,70.9 L265.7,71.0 L265.2,71.0 L264.7,71.1 L264.2,71.2 L263.8,71.2 L263.3,71.3 L262.8,71.3 L262.3,71.4 L261.8,71.4 L261.4,71.5 L260.9,71.5 L260.4,71.5 L259.9,71.5 L259.5,71.5 L259.0,71.5 L258.5,71.5 L258.1,71.5 L257.6,71.5 L257.2,71.5 L256.8,71.4 L256.3,71.4 L255.8,71.3 L255.4,71.2 L254.9,71.1 L254.4,71.0 L253.9,70.9 L253.4,70.8 L253.0,70.7 L252.5,70.6 L252.0,70.5 L251.5,70.4 L251.1,70.3 L250.7,70.2 L250.2,70.0 L249.8,69.8 L249.3,69.7 L248.9,69.5 L248.4,69.2 L247.9,69.0 L247.4,68.8 L246.9,68.6 L246.4,68.3 L245.9,68.1 L245.4,67.9 L244.9,67.6 L244.4,67.4 L244.0,67.2 L243.5,67.0 L243.0,66.7 L242.4,66.4 L241.8,66.1 L241.2,65.9 L240.5,65.7 L240.0,65.6 L239.5,65.5 L238.9,65.4 L238.4,65.2 L237.8,65.2 L237.2,65.1 L236.6,65.1 L235.9,65.1 L235.3,65.1 L234.7,65.2 L234.1,65.3 L233.6,65.4 L233.1,65.5 L232.6,65.6 L232.1,65.7 L231.5,65.8 L231.0,65.9 L230.5,66.1 L229.9,66.2 L229.4,66.4 L228.8,66.5 L228.3,66.7 L227.8,66.9 L227.3,67.1 L226.7,67.3 L226.1,67.5 L225.6,67.8 L225.0,68.1 L224.4,68.4 L223.9,68.7 L223.3,69.1 L222.8,69.4 L222.3,69.8 L221.7,70.2 L221.2,70.6 L220.7,70.9 L220.2,71.3 L219.7,71.7 L219.2,72.0 L218.7,72.4 L218.2,72.8 L217.8,73.1 L217.3,73.4 L216.8,73.8 L216.4,74.1 L215.9,74.4 L215.4,74.7 L214.9,75.0 L214.4,75.3 L213.9,75.6 L213.4,75.9 L212.9,76.2 L212.5,76.5 L212.0,76.8 L211.5,77.1 L211.0,77.4 L210.5,77.7 L210.0,78.1 L209.5,78.4 L209.0,78.7 L208.4,79.0 L207.9,79.3 L207.4,79.7 L206.9,80.0 L206.4,80.3 L205.9,80.7 L205.4,81.0 L204.9,81.4 L204.4,81.7 L203.9,82.1 L203.4,82.4 L202.9,82.7 L202.4,83.1 L201.9,83.4 L201.4,83.8 L200.9,84.1 L200.5,84.5 L200.0,84.8 L199.5,85.1 L199.0,85.5 L198.5,85.8 L198.0,86.1 L197.5,86.5 L197.0,86.8 L196.5,87.1 L196.0,87.5 L195.5,87.8 L195.0,88.1 L194.5,88.4 L194.0,88.8 L193.5,89.1 L193.1,89.4 L192.6,89.7 L192.1,90.1 L191.6,90.4 L191.1,90.7 L190.6,91.0 L190.1,91.3 L189.6,91.7 L189.1,92.0 L188.6,92.3 L188.1,92.6 L187.6,92.9 L187.1,93.3 L186.6,93.6 L186.1,93.9 L185.6,94.2 L185.1,94.5 L184.6,94.8 L184.1,95.1 L183.7,95.5 L183.2,95.8 L182.7,96.1 L182.2,96.4 L181.7,96.7 L181.2,97.0 L180.7,97.3 L180.2,97.6 L179.7,98.0 L179.2,98.3 L178.7,98.6 L178.2,98.9 L177.7,99.2 L177.2,99.5 L176.7,99.8 L176.2,100.1 L175.7,100.4 L175.2,100.7 L174.7,101.0 L174.2,101.3 L173.7,101.6 L173.2,101.9 L172.7,102.2 L172.2,102.5 L171.7,102.8 L171.2,103.1 L170.7,103.4 L170.2,103.7 L169.7,104.0 L169.2,104.3 L168.7,104.6 L168.2,104.9 L167.7,105.2 L167.2,105.5 L166.7,105.8 L166.2,106.1 L165.7,106.4 L165.2,106.7 L164.7,107.0 L164.2,107.3 L163.7,107.6 L163.2,107.9 L162.7,108.2 L162.2,108.5 L161.7,108.8 L161.2,109.1 L160.7,109.4 L160.2,109.7 L159.7,110.0 L159.2,110.3 L158.7,110.6 L158.2,110.9 L157.7,111.2 L157.2,111.5 L156.7,111.8 L156.2,112.1 L155.7,112.4 L155.2,112.7 L154.7,113.1 L154.2,113.4 L153.7,113.7 L153.2,114.0 L152.7,114.3 L152.2,114.6 L151.7,114.9 L151.2,115.2 L150.7,115.5 L150.2,115.8 L149.7,116.1 L149.2,116.4 L148.7,116.8 L148.2,117.1 L147.7,117.4 L147.2,117.7 L146.7,118.0 L146.2,118.3 L145.7,118.6 L145.2,118.9 L144.7,119.3 L144.2,119.6 L143.7,119.9 L143.2,120.2 L142.7,120.5 L142.2,120.9 L141.7,121.2 L141.2,121.5 L140.7,121.8 L140.2,122.1 L139.7,122.5 L139.2,122.8 L138.7,123.1 L138.2,123.4 L137.6,123.8 L137.1,124.1 L136.6,124.4 L136.1,124.7 L135.6,125.1 L135.1,125.4 L134.6,125.7 L134.1,126.1 L133.6,126.4 L133.1,126.7 L132.6,127.0 L132.1,127.4 L131.6,127.7 L131.1,128.1 L130.6,128.4 L130.1,128.7 L129.6,129.1 L129.1,129.4 L128.6,129.8 L128.1,130.1 L127.6,130.5 L127.1,130.8 L126.6,131.1 L126.1,131.5 L125.6,131.8 L125.1,132.2 L124.5,132.5 L124.0,132.9 L123.5,133.3 L123.0,133.6 L122.5,134.0 L122.0,134.3 L121.5,134.7 L121.0,135.1 L120.5,135.5 L120.0,135.8 L119.5,136.2 L119.0,136.6 L118.5,137.0 L118.0,137.3 L117.5,137.7 L117.0,138.1 L116.5,138.5 L115.9,138.9 L115.4,139.3 L114.9,139.7 L114.4,140.1 L113.9,140.5 L113.4,140.9 L112.9,141.3 L112.4,141.7 L111.9,142.1 L111.4,142.6 L110.9,143.0 L110.4,143.4 L109.9,143.8 L109.3,144.3 L108.8,144.7 L108.3,145.2 L107.8,145.6 L107.3,146.0 L106.8,146.5 L106.3,147.0 L105.8,147.4 L105.3,147.9 L104.8,148.3 L104.3,148.8 L103.8,149.3 L103.2,149.8 L102.7,150.3 L102.2,150.7 L101.7,151.2 L101.2,151.7 L100.7,152.2 L100.2,152.7 L99.7,153.2 L99.2,153.8 L98.6,154.3 L98.1,154.8 L97.6,155.3 L97.1,155.9 L96.6,156.4 L96.1,156.9 L95.6,157.5 L95.1,158.0 L94.6,158.6 L94.0,159.2 L93.5,159.7 L93.0,160.3 L92.5,160.9 L92.0,161.5 L91.5,162.1 L91.0,162.7 L90.5,163.3 L89.9,163.9 L89.4,164.5 L88.9,165.1 L88.4,165.7 L87.9,166.4 L87.4,167.0 L86.9,167.6 L86.4,168.3 L85.9,168.9 L85.4,169.6 L84.9,170.2 L84.3,170.8 L83.8,171.5 L83.3,172.1 L82.8,172.8 L82.3,173.4 L81.8,174.1 L81.3,174.7 L80.8,175.4 L80.3,176.0 L79.8,176.7 L79.3,177.3 L78.9,177.9 L78.3,178.6 L77.9,179.2 L77.4,179.8 L76.9,180.5 L76.4,181.1 L75.9,181.7 L75.4,182.3 L74.9,182.9 L74.4,183.5 L73.9,184.1 L73.4,184.6 L72.9,185.2 L72.4,185.8 L71.9,186.4 L71.4,186.9 L70.9,187.5 L70.5,188.0 L70.0,188.5 L69.5,189.0 L69.1,189.4 L68.6,189.9 L68.1,190.3 L67.6,190.8 L67.1,191.2 L66.6,191.6 L66.1,192.1 L65.7,192.5 L65.2,192.9 L64.7,193.2 L64.3,193.6 L63.8,193.9 L63.4,194.2 L63.0,194.4 L62.6,194.6 L62.2,194.8 L61.8,194.9 L61.3,195.1 L60.8,195.3 L60.4,195.5 L59.9,195.6 L59.5,195.8 L59.0,195.9 L58.5,196.1 L58.1,196.2 L57.6,196.4 L57.1,196.5 L56.6,196.6 L56.2,196.7 L55.7,196.9 L55.2,197.0 L54.7,197.1 L54.2,197.2 L53.7,197.3 L53.2,197.4 L52.7,197.5 L52.3,197.6 L51.8,197.7 L51.3,197.8 L50.8,197.9 L50.3,198.0 L49.8,198.1 L49.3,198.1 L48.8,198.2 L48.4,198.2 L47.9,198.3 L47.4,198.3 Z" fill="#000" stroke="none"/>
<circle cx="275.2" cy="70.4" r="2.15" fill="#000"/>
<path d="M275.2,70.4 L282.7,71.3 L288.0,68.0 L293.8,66.6 L299.8,63.2 L305.7,59.9 L311.3,57.3 L317.3,53.8 L323.2,50.6 L329.4,47.1" fill="none" stroke="#000" stroke-width="0.8"/>
<circle cx="282.7" cy="71.3" r="1.25" fill="#fff" stroke="#000" stroke-width="1.05"/>
<circle cx="288.0" cy="68.0" r="1.25" fill="#fff" stroke="#000" stroke-width="1.05"/>
<circle cx="293.8" cy="66.6" r="1.25" fill="#fff" stroke="#000" stroke-width="1.05"/>
<circle cx="299.8" cy="63.2" r="1.25" fill="#fff" stroke="#000" stroke-width="1.05"/>
<circle cx="305.7" cy="59.9" r="1.25" fill="#fff" stroke="#000" stroke-width="1.05"/>
<circle cx="311.3" cy="57.3" r="1.25" fill="#fff" stroke="#000" stroke-width="1.05"/>
<circle cx="317.3" cy="53.8" r="1.25" fill="#fff" stroke="#000" stroke-width="1.05"/>
<circle cx="323.2" cy="50.6" r="1.25" fill="#fff" stroke="#000" stroke-width="1.05"/>
<circle cx="329.4" cy="47.1" r="1.25" fill="#fff" stroke="#000" stroke-width="1.05"/>
</g>
<g id="titles">
<text class="ttl" x="173.9" y="240.7"><tspan class="it">T</tspan> (K)</text>
<text class="ttl" transform="translate(12.2,151.4) rotate(-90)" style="word-spacing:1.0px"><tspan class="it">C</tspan><tspan class="sub" dy="2.8" style="font-size:10.3px">P</tspan><tspan dy="-2.8"> (J/mol f.u. K)</tspan></text>
</g>
<g id="labels">
<text class="lb" x="161.3" y="20.3">(UH<tspan class="sub" dy="3.7">3</tspan><tspan dy="-3.7">)</tspan><tspan class="sub" dy="3.7">0.85</tspan><tspan dy="-3.7">Mo</tspan><tspan class="sub" dy="3.7">0.15</tspan></text>
<text class="lb" x="166.6" y="57.4"><tspan class="beta">β</tspan>-UH<tspan class="sub" dy="3.7">3</tspan></text>
<text class="lb" x="227.3" y="118.2">(UH<tspan class="sub" dy="3.7">3</tspan><tspan dy="-3.7">)</tspan><tspan class="sub" dy="3.7">0.89</tspan><tspan dy="-3.7">Zr</tspan><tspan class="sub" dy="3.7">0.11</tspan></text>
<g stroke="#1a1a1a" stroke-width="0.9" fill="none">
<path d="M234.5,24.7 L257.5,36.7"/>
<path d="M199,53.4 L225,53.4"/>
<path d="M252.3,104.5 L252.3,80"/>
</g>
<g fill="#1a1a1a" stroke="none">
<path d="M259,37.5 L252.6,36.9 L254.7,35.4 L254.3,32.9 Z"/>
<path d="M226.8,53.4 L220.8,55.5 L222.2,53.4 L220.8,51.3 Z"/>
<path d="M252.3,78.1 L254.4,84.6 L252.3,83.2 L250.2,84.6 Z"/>
</g>
</g>
</svg>
</body>
</html>
